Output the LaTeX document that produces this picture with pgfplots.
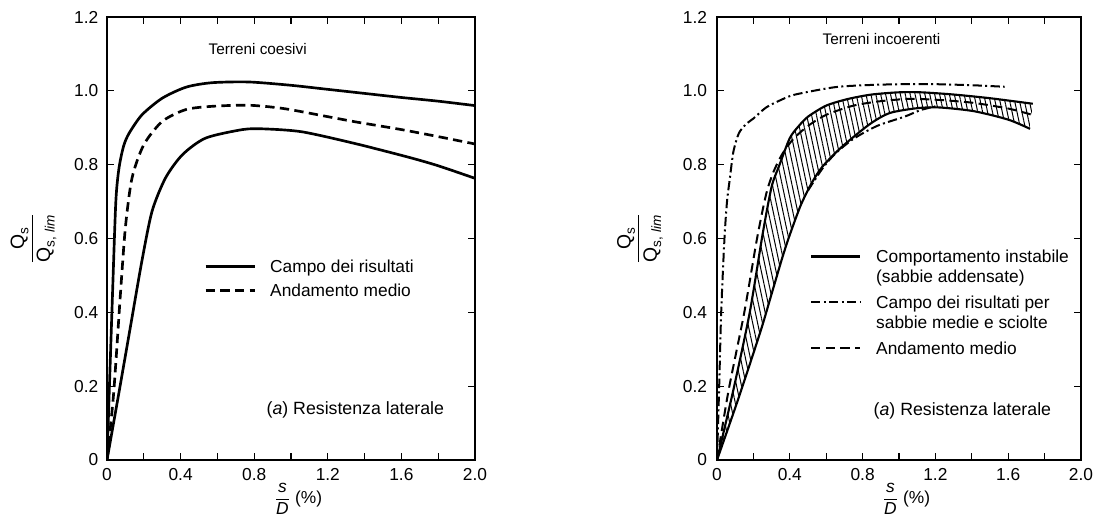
\documentclass[border=0pt]{standalone}
\usepackage{fontspec}
\setmainfont{Liberation Sans}
\usepackage{amsmath}
\usepackage{pgfplots}
\pgfplotsset{compat=1.18}
\usepgfplotslibrary{fillbetween}
\usetikzlibrary{patterns.meta}

\newcommand{\lrow}[2]{\rule[-3.5pt]{0pt}{#1}#2}

\pgfplotsset{
  myax/.style={
    scale only axis, height=332.25pt, anchor=south west,
    xmin=0, xmax=2, ymin=0, ymax=1.2,
    axis line style={line width=1.2pt},
    xtick={0,0.4,0.8,1.2,1.6,2.0}, xticklabels={0,0.4,0.8,1.2,1.6,2.0},
    minor xtick={0.2,0.6,1.0,1.4,1.8},
    ytick={0,0.2,0.4,0.6,0.8,1.0,1.2}, yticklabels={0,0.2,0.4,0.6,0.8,1.0,1.2},
    tick align=inside, major tick length=5pt, minor tick length=5pt,
    every tick/.style={black, line width=0.9pt},
    tick label style={font=\fontsize{13}{15}\selectfont},
    xticklabel style={yshift=-3pt},
    xlabel={$\dfrac{\textit{s}}{\textit{D}}$\ (\%)},
    xlabel style={at={(axis description cs:0.52,-0.088)}, anchor=center, font=\fontsize{13}{15}\selectfont},
    ylabel={$\dfrac{\text{Q}_{\text{s}}}{\text{Q}_{\text{s, \textit{lim}}}}$},
    ylabel style={anchor=center, font=\fontsize{14.5}{16}\selectfont},
    legend image code/.code={\draw[##1] (0pt,4.5pt) -- (37pt,4.5pt);},
    legend style={draw=none, fill=none, inner sep=0pt, anchor=north west,
      font=\fontsize{13}{15}\selectfont, cells={anchor=base west}, row sep=0pt},
  },
  solidl/.style={black, line width=2pt, smooth, tension=0.45},
}

\begin{document}
\begin{tikzpicture}
\path (0,0) rectangle (825pt,391.5pt);

% ---------------- Left panel: Terreni coesivi ----------------
\begin{axis}[myax, width=276pt, at={(80.25pt,46.5pt)},
  yticklabel style={xshift=-3pt},
  ylabel style={at={(axis description cs:-0.2,0.5)}},
  legend style={at={(axis cs:0.527,0.55)}, column sep=8.5pt},
]
\addplot[solidl] coordinates {
(0,0)(0.03,0.45)(0.048,0.70)(0.065,0.79)(0.09,0.85)(0.12,0.885)(0.19,0.935)
(0.30,0.98)(0.43,1.01)(0.57,1.022)(0.77,1.024)(1.0,1.015)(1.2,1.004)
(1.4,0.993)(1.6,0.982)(1.8,0.972)(2.0,0.96)};
\addlegendentry{\lrow{12pt}{Campo dei risultati}}
\addplot[solidl, dash pattern=on 7pt off 4pt] coordinates {
(0,0)(0.036,0.18)(0.073,0.45)(0.1,0.63)(0.136,0.764)(0.2,0.854)(0.3,0.917)
(0.427,0.949)(0.57,0.958)(0.77,0.961)(0.96,0.952)(1.2,0.93)(1.35,0.916)
(1.6,0.895)(1.8,0.876)(2.0,0.856)};
\addlegendentry{\lrow{16pt}{Andamento medio}}
\addplot[solidl, forget plot] coordinates {
(0,0)(0.064,0.18)(0.127,0.36)(0.19,0.54)(0.245,0.674)(0.318,0.764)(0.41,0.827)
(0.536,0.872)(0.736,0.895)(0.85,0.897)(1.06,0.889)(1.35,0.857)(1.64,0.82)
(1.8,0.797)(2.0,0.763)};
\node[anchor=west, font=\fontsize{11.5}{13}\selectfont] at (axis cs:0.527,1.114) {Terreni coesivi};
\node[anchor=west, font=\fontsize{13.3}{15}\selectfont] at (axis cs:0.842,0.135) {(\textit{a}) Resistenza laterale};
\end{axis}

% ---------------- Right panel: Terreni incoerenti ----------------
\begin{axis}[myax, width=273pt, at={(537.75pt,46.5pt)},
  yticklabel style={xshift=-4pt},
  ylabel style={at={(axis description cs:-0.2115,0.5)}},
  legend style={at={(axis cs:0.51,0.577)}, column sep=9pt},
]
\addplot[name path=A, black, line width=1.6pt, smooth, tension=0.45] coordinates {
(0,0)(0.09,0.19)(0.18,0.40)(0.25,0.61)(0.30,0.74)(0.34,0.795)(0.40,0.872)
(0.45,0.905)(0.5,0.93)(0.6,0.96)(0.72,0.978)(0.85,0.99)(1.0,0.996)(1.12,0.996)
(1.3,0.99)(1.5,0.98)(1.735,0.965)};
\addlegendentry{\lrow{12pt}{Comportamento instabile}}
\addlegendimage{empty legend}
\addlegendentry{\lrow{10.75pt}{(sabbie addensate)}}
\addplot[name path=B, black, line width=1.6pt, smooth, tension=0.45, forget plot] coordinates {
(0,0)(0.12,0.17)(0.24,0.35)(0.30,0.45)(0.36,0.55)(0.40,0.61)(0.46,0.69)
(0.52,0.75)(0.58,0.795)(0.69,0.85)(0.84,0.91)(0.95,0.94)(1.1,0.953)
(1.22,0.955)(1.41,0.945)(1.6,0.922)(1.72,0.897)};
\addplot[pattern={Lines[angle=102, distance=3.6pt, line width=0.75pt]}, draw=none, forget plot]
  fill between[of=A and B];
\addplot[black, line width=1.5pt, smooth, tension=0.45,
  dash pattern=on 7pt off 2.5pt on 1.5pt off 2.5pt] coordinates {
(0,0)(0.012,0.2)(0.023,0.40)(0.041,0.60)(0.055,0.70)(0.07,0.76)(0.09,0.835)
(0.12,0.885)(0.16,0.91)(0.2,0.925)(0.27,0.955)(0.35,0.975)(0.43,0.99)
(0.65,1.01)(0.85,1.016)(1.03,1.018)(1.2,1.018)(1.41,1.015)(1.58,1.011)};
\addlegendentry{\lrow{17.5pt}{Campo dei risultati per}}
\addlegendimage{empty legend}
\addlegendentry{\lrow{10.75pt}{sabbie medie e sciolte}}
\addplot[black, line width=1.5pt, smooth, tension=0.45, forget plot,
  dash pattern=on 7pt off 2.5pt on 1.5pt off 2.5pt] coordinates {
(0.5,0.73)(0.58,0.79)(0.65,0.83)(0.75,0.87)(0.88,0.905)(1.03,0.93)
(1.12,0.948)(1.2,0.958)};
\addplot[black, line width=1.5pt, smooth, tension=0.45,
  dash pattern=on 7pt off 4pt] coordinates {
(0,0)(0.063,0.187)(0.15,0.40)(0.22,0.6)(0.27,0.72)(0.31,0.78)(0.36,0.83)
(0.42,0.87)(0.5,0.905)(0.6,0.935)(0.75,0.96)(0.9,0.972)(1.05,0.978)
(1.2,0.976)(1.4,0.968)(1.6,0.952)(1.725,0.936)};
\addlegendentry{\lrow{17.5pt}{Andamento medio}}
\node[anchor=west, font=\fontsize{11.5}{13}\selectfont] at (axis cs:0.555,1.14) {Terreni incoerenti};
\node[anchor=west, font=\fontsize{13.3}{15}\selectfont] at (axis cs:0.835,0.132) {(\textit{a}) Resistenza laterale};
\end{axis}
\end{tikzpicture}
\end{document}
